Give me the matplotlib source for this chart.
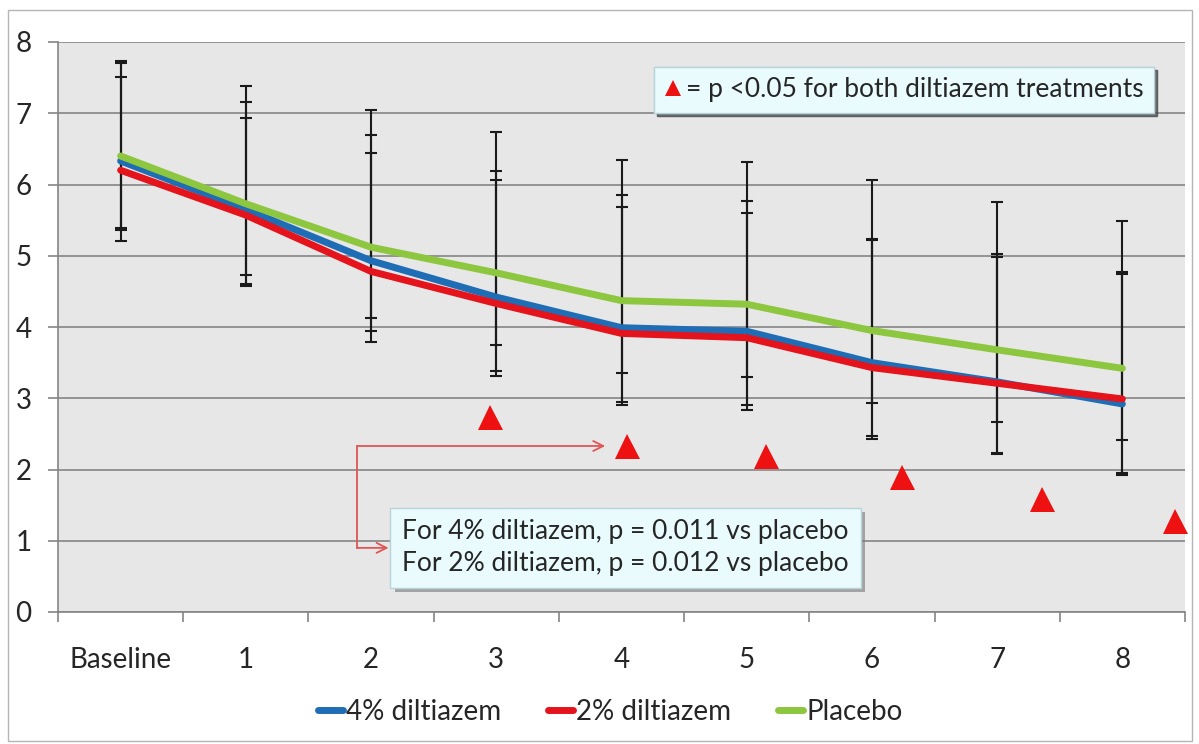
import matplotlib

matplotlib.use('Agg')  # headless
import matplotlib.pyplot as plt
import matplotlib.patheffects as pe
from matplotlib.patches import Rectangle
import numpy as np

# --- data ---
categories = ["Baseline", "1", "2", "3", "4", "5", "6", "7", "8"]

diltiazem_4 = [6.33, 5.65, 4.93, 4.42, 3.99, 3.94, 3.50, 3.23, 2.92]
diltiazem_2 = [6.20, 5.57, 4.78, 4.33, 3.91, 3.85, 3.43, 3.21, 2.99]
placebo = [6.40, 5.73, 5.12, 4.76, 4.37, 4.32, 3.95, 3.68, 3.42]

# error bar ends (upper / lower)
diltiazem_4_hi = [7.71, 7.16, 6.69, 6.19, 5.85, 5.77, 5.24, 5.03, 4.77]
diltiazem_4_lo = [5.36, 4.61, 3.95, 3.38, 2.95, 2.91, 2.47, 2.23, 1.95]
diltiazem_2_hi = [7.51, 6.93, 6.44, 6.07, 5.69, 5.60, 5.22, 4.98, 4.75]
diltiazem_2_lo = [5.39, 4.57, 3.79, 3.31, 2.91, 2.84, 2.43, 2.22, 1.92]
placebo_hi = [7.73, 7.38, 7.05, 6.73, 6.34, 6.31, 6.06, 5.76, 5.49]
placebo_lo = [5.21, 4.73, 4.13, 3.75, 3.36, 3.30, 2.94, 2.67, 2.41]

# significance markers (p < 0.05), x in category units
sig_x = [2.95, 4.04, 5.15, 6.24, 7.36, 8.42]
sig_y = [2.73, 2.33, 2.19, 1.90, 1.59, 1.28]

# --- style ---
plt.rcParams['font.family'] = ['Lato', 'DejaVu Sans']
TXT = '#262626'
BLUE = '#1f6db5'
RED = '#e5131b'
GREEN = '#8dc63f'
FS = 20

fig = plt.figure(figsize=(11.99, 7.44), dpi=100)
ax = fig.add_axes([58 / 1199, 132 / 744, 1127 / 1199, 570 / 744])
ax.set_facecolor('#e7e7e7')

x = np.arange(len(categories))

series = [
    (diltiazem_4, diltiazem_4_lo, diltiazem_4_hi, BLUE, '4% diltiazem'),
    (diltiazem_2, diltiazem_2_lo, diltiazem_2_hi, RED, '2% diltiazem'),
    (placebo, placebo_lo, placebo_hi, GREEN, 'Placebo'),
]

handles = []
for vals, lo, hi, col, name in series:
    vals = np.array(vals)
    yerr = [vals - np.array(lo), np.array(hi) - vals]
    ax.errorbar(x, vals, yerr=yerr, fmt='none', ecolor='#1a1a1a',
                elinewidth=1.5, capsize=4, capthick=1.5, zorder=3)
for vals, lo, hi, col, name in series:
    ln, = ax.plot(x, vals, color=col, linewidth=5, solid_capstyle='round',
                  label=name, zorder=4)
    handles.append(ln)

tri, = ax.plot(sig_x, sig_y, linestyle='none', marker='^', markersize=18,
               color='#ee1111', markeredgewidth=0, clip_on=False, zorder=5)

# axes look
ax.set_xlim(-0.5, 8.5)
ax.set_ylim(0, 8)
ax.set_yticks(range(0, 9))
ax.grid(axis='y', color='#858585', linewidth=1.2)
ax.set_axisbelow(True)
for s in ['top', 'right']:
    ax.spines[s].set_visible(False)
for s in ['left', 'bottom']:
    ax.spines[s].set_color('#858585')
    ax.spines[s].set_linewidth(1.2)

ax.set_xticks(x)
ax.set_xticklabels(categories)
ax.set_xticks(np.arange(-0.5, 9, 1), minor=True)
ax.tick_params(axis='x', which='major', length=0, pad=25, labelsize=FS, labelcolor=TXT)
ax.tick_params(axis='x', which='minor', length=7, color='#858585', width=1.2)
ax.tick_params(axis='y', length=7, color='#858585', width=1.2, pad=12,
               labelsize=FS, labelcolor=TXT)

# note box with red triangle
note = ax.legend([tri], ['= p <0.05 for both diltiazem treatments'], loc='center',
                 bbox_to_anchor=(0.751, 0.916), fontsize=19, markerscale=0.65,
                 handlelength=0.6, handletextpad=0.2, borderpad=0.4,
                 facecolor='#e9fbfd', edgecolor='#b8d4da', framealpha=1,
                 fancybox=False, shadow=True, labelcolor=TXT)
note.get_frame().set_linewidth(1.0)
ax.add_artist(note)

# p-value box and connector arrows
bend_x = 1.89
box_y = 0.90
p_box = ax.text(2.25, box_y,
                "For 4% diltiazem, p = 0.011 vs placebo\nFor 2% diltiazem, p = 0.012 vs placebo",
                fontsize=19, color=TXT, ha='left', va='center', linespacing=1.35, zorder=6,
                bbox=dict(boxstyle='square,pad=0.45', facecolor='#e9fbfd',
                          edgecolor='#b8d4da', linewidth=1.0))
p_box.get_bbox_patch().set_path_effects([
    pe.SimplePatchShadow(offset=(3, -3), shadow_rgbFace='#777777', alpha=0.6),
    pe.Normal()])

arrow_kw = dict(arrowstyle='->', color='#e05555', lw=1.3, shrinkA=0, shrinkB=0,
                mutation_scale=18)
ax.plot([bend_x, bend_x], [sig_y[1], box_y], color='#e05555', lw=1.3, zorder=5)
ax.annotate('', xy=(sig_x[1] - 0.17, sig_y[1]), xytext=(bend_x, sig_y[1]),
            arrowprops=arrow_kw, zorder=5)
ax.annotate('', xy=(2.14, box_y), xytext=(bend_x, box_y),
            arrowprops=arrow_kw, zorder=5)

# bottom legend
fig.legend(handles=handles, loc='center', bbox_to_anchor=(0.509, 0.043), ncol=3,
           frameon=False, fontsize=FS, handlelength=0.9, handletextpad=0.1,
           columnspacing=1.7, labelcolor=TXT)

# chart border
fig.patches.append(Rectangle((0.007, 0.004), 0.987, 0.983, transform=fig.transFigure,
                             fill=False, edgecolor='#b5b5b5', linewidth=1.0))

fig.savefig('out.png', dpi=100)
